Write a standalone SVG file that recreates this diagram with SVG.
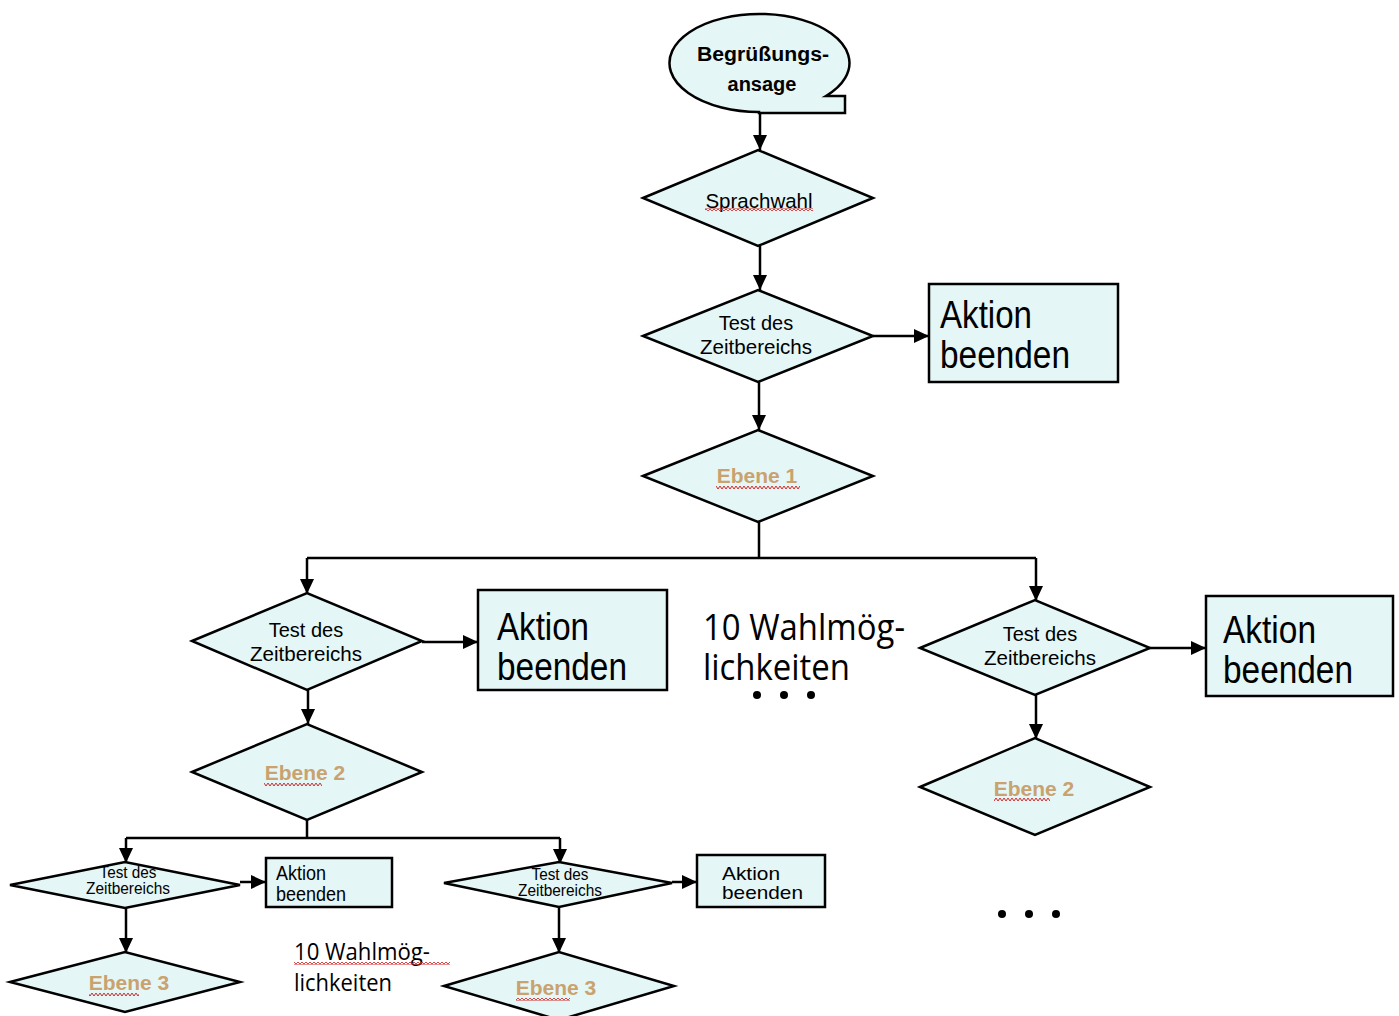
<svg xmlns="http://www.w3.org/2000/svg" width="1399" height="1016" viewBox="0 0 1399 1016">
<style>
.shape{fill:#E4F6F6;stroke:#000;stroke-width:2.5}
.conn{fill:none;stroke:#000;stroke-width:2.5}
.t{font-family:"Liberation Sans",Arial,sans-serif;fill:#000}
.c{text-anchor:middle}
.eb{font-family:"Liberation Sans",Arial,sans-serif;font-weight:bold;fill:#C9A26F;text-anchor:middle}
.w{font-family:"Open Sans","Liberation Sans",sans-serif;fill:#000}
</style>
<defs>
<marker id="ah" markerUnits="userSpaceOnUse" markerWidth="16" markerHeight="14" refX="15" refY="7" orient="auto">
<path d="M0,0 L15,7 L0,14 z" fill="#000"/>
</marker>
<pattern id="sq" width="4" height="3" patternUnits="userSpaceOnUse">
<path d="M0,0 L2,3 L4,0" stroke="#D02828" fill="none" stroke-width="1"/>
</pattern>
</defs>
<rect width="1399" height="1016" fill="#fff"/>

<g id="connectors">
<path class="conn" d="M760,113 V150" marker-end="url(#ah)"/>
<path class="conn" d="M760,246 V290" marker-end="url(#ah)"/>
<path class="conn" d="M873,336 H929" marker-end="url(#ah)"/>
<path class="conn" d="M759,382 V430" marker-end="url(#ah)"/>
<path class="conn" d="M759,522 V558 M307,558 H1036"/>
<path class="conn" d="M307,558 V594" marker-end="url(#ah)"/>
<path class="conn" d="M1036,558 V601" marker-end="url(#ah)"/>
<path class="conn" d="M422,642 H478" marker-end="url(#ah)"/>
<path class="conn" d="M308,690 V724" marker-end="url(#ah)"/>
<path class="conn" d="M1150,648 H1206" marker-end="url(#ah)"/>
<path class="conn" d="M1036,695 V739" marker-end="url(#ah)"/>
<path class="conn" d="M307,820 V838 M126,838 H560"/>
<path class="conn" d="M126,838 V863" marker-end="url(#ah)"/>
<path class="conn" d="M560,838 V864" marker-end="url(#ah)"/>
<path class="conn" d="M240,882 H266" marker-end="url(#ah)"/>
<path class="conn" d="M126,908 V953" marker-end="url(#ah)"/>
<path class="conn" d="M672,882 H697" marker-end="url(#ah)"/>
<path class="conn" d="M559,908 V953" marker-end="url(#ah)"/>
</g>

<g id="start">
<path class="shape" d="M759,112 A90,49 0 1 1 826,96 L845,96 L845,113 L759,113 Z"/>
<text class="t c" x="763" y="61" font-size="20" font-weight="bold" textLength="132" lengthAdjust="spacingAndGlyphs">Begrüßungs-</text>
<text class="t c" x="762" y="91" font-size="20" font-weight="bold">ansage</text>
</g>

<g id="sprachwahl">
<polygon class="shape" points="643,198 758,150 873,198 758,246"/>
<text class="t c" x="759" y="208" font-size="20.5">Sprachwahl</text>
<rect x="705" y="208" width="108" height="3" fill="url(#sq)"/>
</g>

<g id="test1">
<polygon class="shape" points="643,336 758,290 873,336 758,382"/>
<text class="t c" x="756" y="330" font-size="20">Test des</text>
<text class="t c" x="756" y="354" font-size="20" textLength="112" lengthAdjust="spacingAndGlyphs">Zeitbereichs</text>
</g>

<g id="aktion1">
<rect class="shape" x="929" y="284" width="189" height="98"/>
<text class="t" x="940" y="328" font-size="38" textLength="92" lengthAdjust="spacingAndGlyphs">Aktion</text>
<text class="t" x="940" y="368" font-size="38" textLength="130" lengthAdjust="spacingAndGlyphs">beenden</text>
</g>

<g id="ebene1">
<polygon class="shape" points="643,476 758,430 873,476 758,522"/>
<text class="eb" x="757" y="483" font-size="21">Ebene 1</text>
<rect x="716" y="486" width="84" height="3" fill="url(#sq)"/>
</g>

<g id="test2">
<polygon class="shape" points="192,641 307,593 422,641 307,690"/>
<text class="t c" x="306" y="637" font-size="20">Test des</text>
<text class="t c" x="306" y="661" font-size="20" textLength="112" lengthAdjust="spacingAndGlyphs">Zeitbereichs</text>
</g>

<g id="aktion2">
<rect class="shape" x="478" y="590" width="189" height="100"/>
<text class="t" x="497" y="640" font-size="38" textLength="92" lengthAdjust="spacingAndGlyphs">Aktion</text>
<text class="t" x="497" y="680" font-size="38" textLength="130" lengthAdjust="spacingAndGlyphs">beenden</text>
</g>

<g id="wahl1">
<text class="w" x="703" y="640" font-size="37" textLength="202" lengthAdjust="spacingAndGlyphs">10 Wahlmög-</text>
<text class="w" x="703" y="680" font-size="37" textLength="147" lengthAdjust="spacingAndGlyphs">lichkeiten</text>
<circle cx="757" cy="695" r="4"/>
<circle cx="784" cy="695" r="4"/>
<circle cx="811" cy="695" r="4"/>
</g>

<g id="test3">
<polygon class="shape" points="920,648 1035,600 1150,648 1035,695"/>
<text class="t c" x="1040" y="641" font-size="20">Test des</text>
<text class="t c" x="1040" y="665" font-size="20" textLength="112" lengthAdjust="spacingAndGlyphs">Zeitbereichs</text>
</g>

<g id="aktion3">
<rect class="shape" x="1206" y="596" width="187" height="100"/>
<text class="t" x="1223" y="643" font-size="38" textLength="93" lengthAdjust="spacingAndGlyphs">Aktion</text>
<text class="t" x="1223" y="683" font-size="38" textLength="130" lengthAdjust="spacingAndGlyphs">beenden</text>
</g>

<g id="ebene2left">
<polygon class="shape" points="192,772 307,724 422,772 307,820"/>
<text class="eb" x="305" y="780" font-size="21">Ebene 2</text>
<rect x="264" y="783" width="58" height="3" fill="url(#sq)"/>
</g>

<g id="ebene2right">
<polygon class="shape" points="920,787 1035,738 1150,787 1035,835"/>
<text class="eb" x="1034" y="796" font-size="21">Ebene 2</text>
<rect x="994" y="798" width="56" height="3" fill="url(#sq)"/>
</g>

<g id="dots2">
<circle cx="1002" cy="914" r="4"/>
<circle cx="1029" cy="914" r="4"/>
<circle cx="1056" cy="914" r="4"/>
</g>

<g id="test4">
<polygon class="shape" points="10,885 125,862 240,885 125,908"/>
<text class="t c" x="128" y="878" font-size="16" textLength="57" lengthAdjust="spacingAndGlyphs">Test des</text>
<text class="t c" x="128" y="894" font-size="16" textLength="84" lengthAdjust="spacingAndGlyphs">Zeitbereichs</text>
</g>

<g id="aktion4">
<rect class="shape" x="266" y="858" width="126" height="49"/>
<text class="t" x="276" y="880" font-size="20" textLength="50" lengthAdjust="spacingAndGlyphs">Aktion</text>
<text class="t" x="276" y="901" font-size="20" textLength="70" lengthAdjust="spacingAndGlyphs">beenden</text>
</g>

<g id="ebene3left">
<polygon class="shape" points="10,982 125,952 240,982 125,1012"/>
<text class="eb" x="129" y="990" font-size="21">Ebene 3</text>
<rect x="89" y="993" width="50" height="3" fill="url(#sq)"/>
</g>

<g id="wahl2">
<text class="w" x="294" y="960" font-size="24" textLength="136" lengthAdjust="spacingAndGlyphs">10 Wahlmög-</text>
<rect x="294" y="962" width="156" height="3" fill="url(#sq)"/>
<text class="w" x="294" y="991" font-size="24" textLength="98" lengthAdjust="spacingAndGlyphs">lichkeiten</text>
</g>

<g id="test5">
<polygon class="shape" points="444,883 559,862 672,883 559,907"/>
<text class="t c" x="560" y="880" font-size="16" textLength="57" lengthAdjust="spacingAndGlyphs">Test des</text>
<text class="t c" x="560" y="896" font-size="16" textLength="84" lengthAdjust="spacingAndGlyphs">Zeitbereichs</text>
</g>

<g id="aktion5">
<rect class="shape" x="697" y="855" width="128" height="52"/>
<text class="t" x="722" y="880" font-size="19" textLength="58" lengthAdjust="spacingAndGlyphs">Aktion</text>
<text class="t" x="722" y="899" font-size="19" textLength="81" lengthAdjust="spacingAndGlyphs">beenden</text>
</g>

<g id="ebene3right">
<polygon class="shape" points="444,986 559,952 674,986 559,1020"/>
<text class="eb" x="556" y="995" font-size="21">Ebene 3</text>
<rect x="516" y="998" width="54" height="3" fill="url(#sq)"/>
</g>
</svg>
